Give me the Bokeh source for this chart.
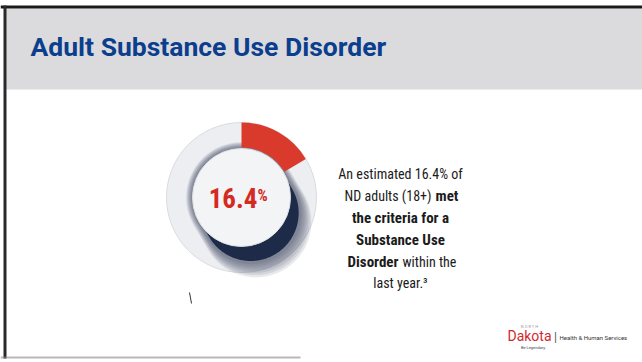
import numpy as np
from bokeh.plotting import figure
from bokeh.models import Range1d
from bokeh.core.properties import value
from bokeh.embed import file_html
from bokeh.resources import INLINE

# ---- data ----
pct_value = 16.4
pct_label = ["16.4"]
pct_sign = ["%"]
title_text = ["Adult Substance Use Disorder"]
body_regular = ["An estimated 16.4% of", "ND adults (18+)", "within the", "last year.\u00b3"]
body_bold = ["met", "the criteria for a", "Substance Use", "Disorder"]
logo_texts = ["N O R T H", "Dakota", "|", "Health & Human Services", "Be Legendary."]

W, H = 642, 362
def Y(yp):
    return H - yp

p = figure(width=W, height=H, x_range=Range1d(0, W), y_range=Range1d(0, H),
           output_backend="svg", toolbar_location=None, min_border=0)
p.axis.visible = False
p.grid.visible = False
p.outline_line_color = None
p.background_fill_color = "white"
p.border_fill_color = "white"

F = "Roboto"
NARROW = "'Liberation Sans Narrow', 'Roboto Condensed', Roboto"

# header band and scan borders
p.quad(left=[5], right=[W], top=[Y(8)], bottom=[Y(89)], color="#dbdbdd", line_color=None)
p.quad(left=[0], right=[W], top=[Y(5)], bottom=[Y(8)], color="#1a1a1a", line_color=None)
p.quad(left=[3], right=[6], top=[Y(5)], bottom=[Y(358)], color="#2a2a2a", line_color=None)
p.quad(left=[0], right=[300], top=[Y(356)], bottom=[Y(358)], color="#8a8a8a", line_color=None, alpha=0.6)

p.text(x=[30], y=[Y(46)], text=title_text, text_font=value(F),
       text_font_style="bold", text_font_size="26.5px", text_color="#0c3e8e",
       text_baseline="middle", text_align="left")

# donut
cx, cy = 241, Y(197)
r_out, r_in = 75, 49
p.circle(x=[cx], y=[cy], radius=r_out, fill_color="#eceef1", line_color="#d9dbdf", line_width=1)

# long shadow
d = np.array([0.51, -0.86])
th = np.linspace(0, 2 * np.pi, 360)
def hull(L, r):
    ux, uy = np.cos(th), np.sin(th)
    fwd = (ux * d[0] + uy * d[1]) > 0
    xs = cx + r * ux + np.where(fwd, L * d[0], 0)
    ys = cy + r * uy + np.where(fwd, L * d[1], 0)
    return xs, ys
for k in range(7, 0, -1):
    xs, ys = hull(18 + 1.5 * k, r_in + 0.9 * k)
    p.patch(xs, ys, fill_color="#2a3754", fill_alpha=0.11, line_color=None)
xs, ys = hull(18, r_in - 1)
p.patch(xs, ys, fill_color="#1d2b48", line_color=None)

# red share arc
frac = pct_value / 100.0
p.annular_wedge(x=[cx], y=[cy], inner_radius=50, outer_radius=r_out,
                start_angle=np.pi / 2 - frac * 2 * np.pi, end_angle=np.pi / 2,
                fill_color="#d93a2b", line_color=None)

p.circle(x=[cx], y=[cy], radius=r_in, fill_color="#f3f4f6", line_color="#dfe1e4", line_width=1)

p.text(x=[257], y=[Y(197)], text=pct_label, text_font=value(NARROW), text_font_style="bold",
       text_font_size="27px", text_color="#d42a1f", text_align="right", text_baseline="middle")
p.text(x=[257], y=[Y(195)], text=pct_sign, text_font=value(NARROW), text_font_style="bold",
       text_font_size="16px", text_color="#d42a1f", text_align="left", text_baseline="middle")

# stray scan mark
p.line(x=[189, 191], y=[Y(292), Y(303)], line_color="#333333", line_width=1)

# body text
tc = "#1b1b1b"
fr = "14px"
fb = "15px"
cxt = 400
rows = [173, 195, 217, 239, 261, 282]
p.text(x=[cxt], y=[Y(rows[0])], text=[body_regular[0]], text_font=value(NARROW), text_font_size=fr,
       text_color=tc, text_align="center", text_baseline="middle")
p.text(x=[431], y=[Y(rows[1])], text=[body_regular[1]], text_font=value(NARROW), text_font_size=fr,
       text_color=tc, text_align="right", text_baseline="middle")
p.text(x=[435], y=[Y(rows[1])], text=[body_bold[0]], text_font=value(NARROW), text_font_style="bold",
       text_font_size=fb, text_color=tc, text_align="left", text_baseline="middle")
p.text(x=[cxt], y=[Y(rows[2])], text=[body_bold[1]], text_font=value(NARROW), text_font_style="bold",
       text_font_size=fb, text_color=tc, text_align="center", text_baseline="middle")
p.text(x=[cxt], y=[Y(rows[3])], text=[body_bold[2]], text_font=value(NARROW), text_font_style="bold",
       text_font_size=fb, text_color=tc, text_align="center", text_baseline="middle")
p.text(x=[398], y=[Y(rows[4])], text=[body_bold[3]], text_font=value(NARROW), text_font_style="bold",
       text_font_size=fb, text_color=tc, text_align="right", text_baseline="middle")
p.text(x=[402], y=[Y(rows[4])], text=[body_regular[2]], text_font=value(NARROW), text_font_size=fr,
       text_color=tc, text_align="left", text_baseline="middle")
p.text(x=[cxt], y=[Y(rows[5])], text=[body_regular[3]], text_font=value(NARROW), text_font_size=fr,
       text_color=tc, text_align="center", text_baseline="middle")

# logo
p.text(x=[529], y=[Y(326)], text=[logo_texts[0]], text_font=value(F), text_font_size="4px",
       text_color="#999999", text_align="center", text_baseline="middle")
p.text(x=[529], y=[Y(335)], text=[logo_texts[1]], text_font=value(F), text_font_size="14px",
       text_color="#d0282e", text_align="center", text_baseline="middle")
p.text(x=[555], y=[Y(336)], text=[logo_texts[2]], text_font=value(F), text_font_size="12px",
       text_color="#555555", text_align="center", text_baseline="middle")
p.text(x=[559], y=[Y(337)], text=[logo_texts[3]], text_font=value(F), text_font_size="6px",
       text_color="#333333", text_align="left", text_baseline="middle")
p.text(x=[533], y=[Y(347)], text=[logo_texts[4]], text_font=value(F), text_font_size="4px",
       text_color="#444444", text_align="center", text_baseline="middle")

open("out.html", "w").write(file_html(p, INLINE))
